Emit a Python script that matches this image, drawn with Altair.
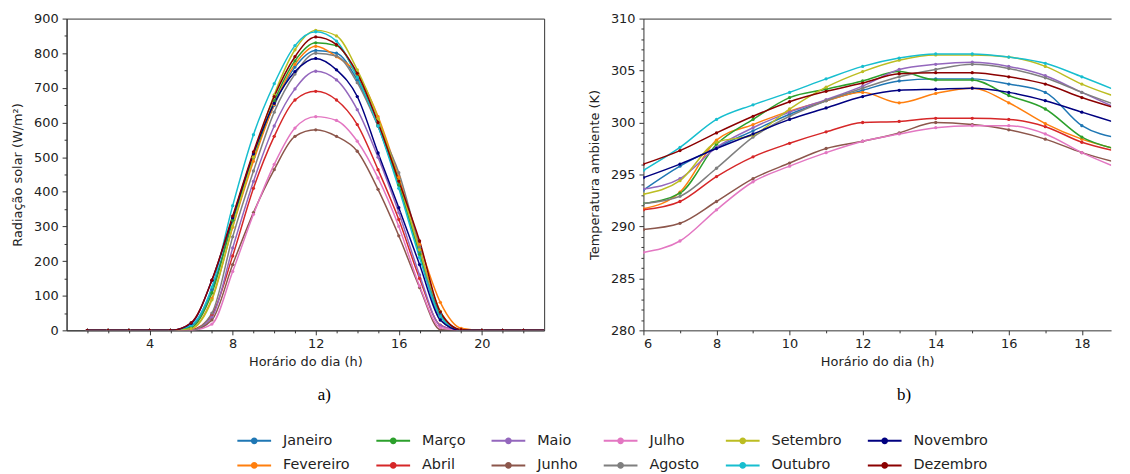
import altair as alt
import pandas as pd

meses = ["Janeiro", "Fevereiro", "Março", "Abril", "Maio", "Junho",
         "Julho", "Agosto", "Setembro", "Outubro", "Novembro", "Dezembro"]
cores = ["#1f77b4", "#ff7f0e", "#2ca02c", "#d62728", "#9467bd", "#8c564b",
         "#e377c2", "#7f7f7f", "#bcbd22", "#17becf", "#000080", "#8b0000"]

# ---- a) radiação solar (W/m²), horas 1..23
horas_rad = list(range(1, 24))
rad_jan = [0, 0, 0, 0, 0, 12, 118, 318, 500, 650, 760, 808, 800, 722, 590, 420, 228, 48, 2, 0, 0, 0, 0]
rad_fev = [0, 0, 0, 0, 0, 5, 92, 298, 488, 652, 768, 820, 790, 740, 617, 442, 248, 81, 6, 0, 0, 0, 0]
rad_mar = [0, 0, 0, 0, 0, 8, 108, 318, 500, 662, 778, 830, 822, 732, 592, 420, 220, 40, 0, 0, 0, 0, 0]
rad_abr = [0, 0, 0, 0, 0, 2, 45, 215, 410, 560, 665, 690, 665, 594, 464, 320, 150, 15, 0, 0, 0, 0, 0]
rad_mai = [0, 0, 0, 0, 0, 0, 38, 238, 430, 590, 697, 748, 723, 637, 500, 340, 160, 14, 0, 0, 0, 0, 0]
rad_jun = [0, 0, 0, 0, 0, 0, 30, 190, 340, 464, 560, 579, 560, 517, 407, 273, 124, 2, 0, 0, 0, 0, 0]
rad_jul = [0, 0, 0, 0, 0, 0, 18, 170, 335, 479, 584, 617, 606, 546, 440, 300, 128, 8, 0, 0, 0, 0, 0]
rad_ago = [0, 0, 0, 0, 0, 0, 50, 270, 460, 630, 740, 800, 792, 715, 590, 455, 240, 30, 0, 0, 0, 0, 0]
rad_set = [0, 0, 0, 0, 0, 5, 88, 300, 500, 680, 810, 866, 850, 752, 612, 432, 232, 55, 0, 0, 0, 0, 0]
rad_out = [0, 0, 0, 0, 0, 15, 125, 360, 565, 712, 822, 862, 835, 730, 590, 410, 210, 40, 0, 0, 0, 0, 0]
rad_nov = [0, 0, 0, 0, 0, 20, 145, 325, 510, 655, 747, 785, 752, 675, 512, 354, 190, 30, 0, 0, 0, 0, 0]
rad_dez = [0, 0, 0, 0, 0, 22, 145, 330, 515, 675, 790, 847, 825, 742, 600, 431, 258, 53, 2, 0, 0, 0, 0]

# ---- b) temperatura ambiente (K), horas 6..19
horas_temp = list(range(6, 20))
temp_jan = [293.5, 295.8, 297.6, 299.2, 300.8, 302.1, 303.1, 304.0, 304.2, 304.2, 303.7, 302.9, 299.7, 298.5]
temp_fev = [291.7, 293.3, 298.3, 299.8, 301.1, 302.1, 302.9, 301.9, 302.8, 303.3, 301.9, 299.9, 298.4, 297.4]
temp_mar = [292.2, 293.2, 297.9, 300.3, 302.4, 303.2, 304.0, 304.9, 304.1, 304.1, 302.6, 301.3, 298.6, 297.4]
temp_abr = [291.6, 292.4, 294.8, 296.7, 298.0, 299.1, 300.0, 300.1, 300.4, 300.4, 300.3, 299.6, 298.1, 297.2]
temp_mai = [293.6, 294.6, 297.6, 299.5, 301.0, 302.2, 303.5, 305.1, 305.6, 305.8, 305.4, 304.5, 302.9, 301.3]
temp_jun = [289.7, 290.3, 292.4, 294.6, 296.1, 297.5, 298.2, 299.0, 300.0, 299.8, 299.3, 298.4, 297.1, 296.1]
temp_jul = [287.5, 288.6, 291.6, 294.3, 295.8, 297.1, 298.2, 298.9, 299.5, 299.7, 299.7, 298.9, 297.1, 295.6]
temp_ago = [292.2, 292.9, 295.6, 298.6, 300.6, 302.1, 303.3, 304.4, 305.1, 305.6, 305.2, 304.3, 302.9, 301.6]
temp_set = [293.1, 294.4, 298.1, 298.8, 301.3, 303.4, 304.9, 306.0, 306.5, 306.5, 306.3, 305.4, 303.7, 302.4]
temp_out = [295.4, 297.6, 300.3, 301.7, 302.9, 304.2, 305.4, 306.2, 306.6, 306.6, 306.3, 305.7, 304.4, 303.0]
temp_nov = [294.7, 296.0, 297.5, 298.9, 300.3, 301.4, 302.5, 303.1, 303.2, 303.3, 302.9, 302.1, 301.0, 299.9]
temp_dez = [296.0, 297.3, 299.0, 300.6, 302.0, 303.0, 303.8, 304.7, 304.8, 304.8, 304.4, 303.7, 302.4, 301.3]

rad_series = [rad_jan, rad_fev, rad_mar, rad_abr, rad_mai, rad_jun,
              rad_jul, rad_ago, rad_set, rad_out, rad_nov, rad_dez]
temp_series = [temp_jan, temp_fev, temp_mar, temp_abr, temp_mai, temp_jun,
               temp_jul, temp_ago, temp_set, temp_out, temp_nov, temp_dez]

rows = []
for m, s in zip(meses, rad_series):
    for h, v in zip(horas_rad, s):
        rows.append({"mes": m, "hora": h, "valor": v})
df_rad = pd.DataFrame(rows)

rows = []
for m, s in zip(meses, temp_series):
    for h, v in zip(horas_temp, s):
        rows.append({"mes": m, "hora": h, "valor": v})
df_temp = pd.DataFrame(rows)

# legend order: column-wise like the reference (2 rows x 6 columns)
idx = [0, 2, 4, 6, 8, 10, 1, 3, 5, 7, 9, 11]
leg_dom = [meses[i] for i in idx]
leg_col = [cores[i] for i in idx]
cscale = alt.Scale(domain=leg_dom, range=leg_col)

SYM = "M-1,0H1M-0.14,0A0.14,0.14,0,1,1,0.14,0A0.14,0.14,0,1,1,-0.14,0Z"
leg = alt.Legend(title=None, orient="none", legendX=171, legendY=407,
                 direction="horizontal", columns=6, gridAlign="each",
                 columnPadding=22, rowPadding=-12, symbolType=SYM,
                 symbolSize=1156, symbolStrokeWidth=2, labelOffset=11,
                 padding=0, labelFontSize=14.5)

FONT = "DejaVu Sans"


def painel(df, xdom, ydom, xmaj, xmin, ymaj, ymin, ytitle, caption, dx,
           w, h, last_pt, frame_stroke, top_spine):
    xs = alt.Scale(domain=xdom, nice=False, zero=False)
    ys = alt.Scale(domain=ydom, nice=False, zero=False)
    base = alt.Chart(df)
    linhas = base.mark_line(strokeWidth=1.5, interpolate="monotone", clip=True).encode(
        x=alt.X("hora:Q", scale=xs,
                axis=alt.Axis(values=xmaj, title="Horário do dia (h)", orient="bottom",
                              tickSize=4.5, labelPadding=3, titlePadding=5)),
        y=alt.Y("valor:Q", scale=ys,
                axis=alt.Axis(values=ymaj, title=ytitle, orient="left",
                              tickSize=4.5, labelPadding=4, titlePadding=9)),
        color=alt.Color("mes:N", scale=cscale, legend=leg),
    )
    pontos = base.transform_filter(alt.datum.hora <= last_pt).mark_circle(
        size=11, opacity=1, clip=True).encode(
        x=alt.X("hora:Q", scale=xs, axis=None),
        y=alt.Y("valor:Q", scale=ys, axis=None),
        color=alt.Color("mes:N", scale=cscale, legend=leg),
    )
    menores = base.mark_point(opacity=0).encode(
        x=alt.X("hora:Q", scale=xs,
                axis=alt.Axis(values=xmin, labels=False, title=None, tickSize=2.5,
                              domain=False, orient="bottom")),
        y=alt.Y("valor:Q", scale=ys,
                axis=alt.Axis(values=ymin, labels=False, title=None, tickSize=2.5,
                              domain=False, orient="left")),
    )
    layers = [linhas, pontos, menores]
    if top_spine:
        topo = base.mark_point(opacity=0).encode(
            x=alt.X("hora:Q", scale=xs,
                    axis=alt.Axis(orient="top", labels=False, ticks=False,
                                  title=None, domain=True)),
        )
        layers.append(topo)
    return alt.layer(*layers).resolve_axis(x="independent", y="independent").properties(
        width=w, height=h,
        view=alt.ViewBackground(stroke=frame_stroke, strokeWidth=1),
        title=alt.TitleParams(text=caption, orient="bottom", anchor="middle",
                              frame="group", dx=dx, offset=19,
                              font="Liberation Serif", fontSize=17,
                              fontWeight="normal", color="#000000"),
    )


left = painel(df_rad, [0, 23], [0, 900], [4, 8, 12, 16, 20],
              [h for h in range(1, 23) if h % 4 != 0],
              list(range(0, 901, 100)), list(range(50, 900, 100)),
              "Radiação solar (W/m²)", "a)", 19, 481, 314, 22, "#333333", False)

right = painel(df_temp, [6, 18.8], [280, 310], [6, 8, 10, 12, 14, 16, 18],
               [7, 9, 11, 13, 15, 17],
               list(range(280, 311, 5)), [v for v in range(281, 310) if v % 5 != 0],
               "Temperatura ambiente (K)", "b)", 27, 471, 314, 18, "transparent", True)

chart = alt.hconcat(left, right, spacing=40).properties(
    padding={"left": 3, "top": 2, "right": 0, "bottom": 0},
    background="white",
).configure_axis(
    labelFont=FONT, titleFont=FONT, labelFontSize=13, titleFontSize=13,
    titleFontWeight="normal", labelColor="#222222", titleColor="#222222",
    tickColor="#333333", domainColor="#333333", grid=False,
).configure_legend(
    labelFont=FONT, labelColor="#222222",
)

chart.save("out.html", embed_options={"renderer": "svg", "actions": False})
